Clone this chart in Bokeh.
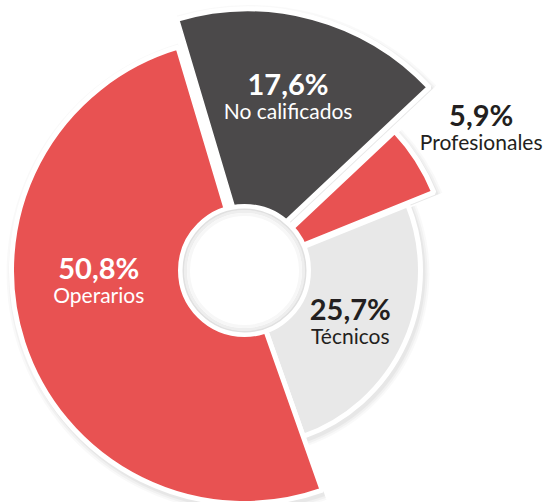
import math
from bokeh.plotting import figure
from bokeh.models import Range1d, ColumnDataSource
from bokeh.embed import file_html
from bokeh.resources import INLINE
from bokeh.core.properties import value

# ---- data ----
categories = ["No calificados", "Profesionales", "Técnicos", "Operarios"]
shares = [17.6, 5.9, 25.7, 50.8]
pct_labels = ["17,6%", "5,9%", "25,7%", "50,8%"]

# ---- styles / layout ----
colors = ["#4b494a", "#e85252", "#e8e8e8", "#e85252"]
outer_r = [249, 197, 176, 233]
explode = [13, 8, 0, 0]
text_colors = ["#ffffff", "#231f20", "#231f20", "#ffffff"]
label_theta = [14.0, 58.7, 115.3, 266.5]   # clockwise from top, degrees
label_r = [180, 277, 117, 146]
start_deg = 343.4
W, H = 548, 502
cx, cy = 244, H - 270
hole_r = 64

p = figure(width=W, height=H, output_backend="svg", toolbar_location=None,
           x_range=Range1d(0, W), y_range=Range1d(0, H), min_border=0)
p.axis.visible = False
p.grid.visible = False
p.outline_line_color = None
p.background_fill_color = "white"
p.border_fill_color = "white"

xs, ys, sa, ea, rr = [], [], [], [], []
cum = 0.0
for s, r, e in zip(shares, outer_r, explode):
    t1 = start_deg + cum * 3.6
    t2 = t1 + s * 3.6
    tm = math.radians((t1 + t2) / 2)
    xs.append(cx + e * math.sin(tm))
    ys.append(cy + e * math.cos(tm))
    sa.append(math.radians(90 - t2))
    ea.append(math.radians(90 - t1))
    rr.append(r)
    cum += s

src = ColumnDataSource(dict(x=xs, y=ys, sa=sa, ea=ea, r=rr, color=colors, cat=categories))

# soft shadows
for k, a in [(7, 0.025), (5, 0.03), (3, 0.04)]:
    sh = ColumnDataSource(dict(x=[x + 2 for x in xs], y=[y - 3 for y in ys], sa=sa, ea=ea,
                               r=[r + k for r in rr]))
    p.wedge(x="x", y="y", radius="r", start_angle="sa", end_angle="ea", source=sh,
            fill_color="black", fill_alpha=a, line_color=None)

p.wedge(x="x", y="y", radius="r", start_angle="sa", end_angle="ea", source=src,
        fill_color="color", line_color="white", line_width=5)

# center hole
p.circle(x=[cx], y=[cy], radius=hole_r, fill_color="white", line_color="white", line_width=5)
for rad, col, lw in [(61, "#e0e0e0", 2), (59, "#eeeeee", 3), (56, "#f7f7f7", 3)]:
    p.circle(x=[cx], y=[cy], radius=rad, fill_color=None, line_color=col, line_width=lw)

lx = [cx + r * math.sin(math.radians(t)) for r, t in zip(label_r, label_theta)]
ly = [cy + r * math.cos(math.radians(t)) for r, t in zip(label_r, label_theta)]
lsrc = ColumnDataSource(dict(x=lx, y=ly, pct=pct_labels, cat=categories, tc=text_colors))
p.text(x="x", y="y", text="pct", source=lsrc, text_color="tc", text_align="center",
       text_baseline="alphabetic", text_font=value("Lato"), text_font_style="bold",
       text_font_size="29px", y_offset=-12)
p.text(x="x", y="y", text="cat", source=lsrc, text_color="tc", text_align="center",
       text_baseline="alphabetic", text_font=value("Lato"), text_font_size="21px",
       y_offset=15)

open("out.html", "w").write(file_html(p, INLINE))
